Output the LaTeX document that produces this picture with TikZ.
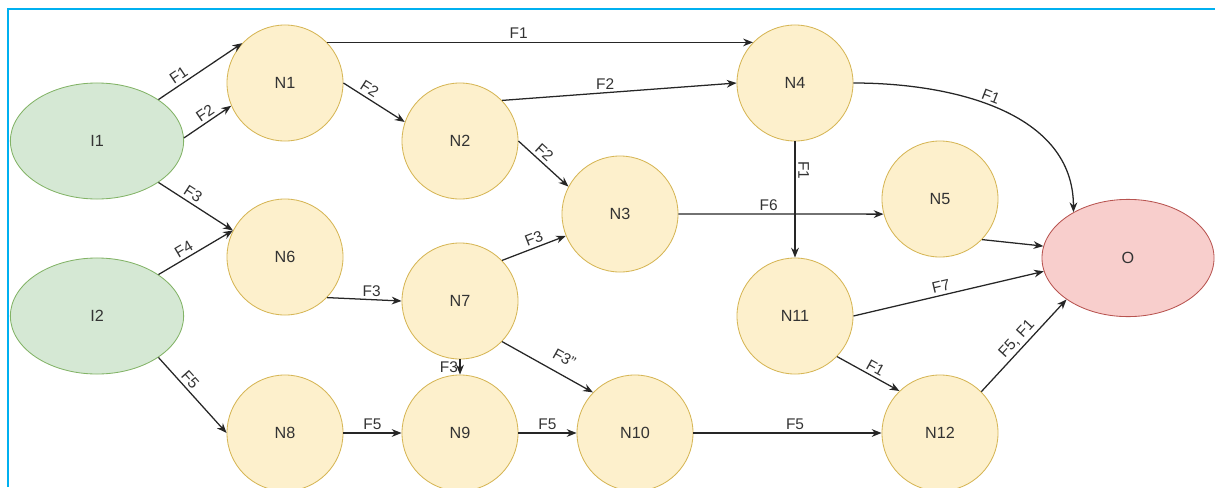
\documentclass[tikz,border=0pt]{standalone}
\usepackage{fontspec}
\setmainfont{Liberation Sans}
\usepackage{tikz}
\usetikzlibrary{arrows.meta}
\usetikzlibrary{shapes.geometric}
\definecolor{ColIn}{RGB}{213,232,212}
\definecolor{ColInLine}{RGB}{130,179,102}
\definecolor{ColStep}{RGB}{253,240,204}
\definecolor{ColStepLine}{RGB}{214,182,86}
\definecolor{ColOut}{RGB}{248,206,204}
\definecolor{ColOutLine}{RGB}{184,84,80}
\definecolor{ColFrame}{RGB}{0,176,240}
\tikzstyle{NodeIn}=[ellipse,draw=ColInLine,fill=ColIn,line width=.6pt,minimum width=4.33cm,
minimum height=2.9cm,inner sep=0pt,text=black!80,font=\fontsize{11.5}{13}\selectfont]
\tikzstyle{NodeStep}=[circle,draw=ColStepLine,fill=ColStep,line width=.6pt,minimum size=2.9cm,
inner sep=0pt,text=black!80,font=\fontsize{11.5}{13}\selectfont]
\tikzstyle{NodeOut}=[ellipse,draw=ColOutLine,fill=ColOut,line width=.6pt,minimum width=4.3cm,
minimum height=2.93cm,inner sep=0pt,text=black!80,font=\fontsize{11.5}{13}\selectfont]
\tikzstyle{EdgeFlow}=[-{Stealth[length=7pt,width=5.5pt]},line width=.9pt,black!85]
\tikzstyle{EdgeLabel}=[font=\fontsize{11}{13}\selectfont,text=black!80,inner sep=2pt]
\tikzstyle{FrameLine}=[ColFrame,line width=1.4pt]

\begin{document}
\begin{tikzpicture}[x=0.025cm,y=0.025cm]
        \useasboundingbox(0,0)rectangle(1215,-487);
        \draw[FrameLine](8,-487)--(8,-9)--(1215,-9);
        % inputs and output
        \node[NodeIn](i1)at(97,-141){I1};
        \node[NodeIn](i2)at(97,-316){I2};
        \node[NodeOut](o)at(1128,-258){O};
        % steps
        \node[NodeStep](n1)at(285,-83){N1};
        \node[NodeStep](n2)at(460,-141){N2};
        \node[NodeStep](n3)at(620,-214){N3};
        \node[NodeStep](n4)at(795,-83){N4};
        \node[NodeStep](n5)at(940,-199){N5};
        \node[NodeStep](n6)at(285,-257){N6};
        \node[NodeStep](n7)at(460,-301){N7};
        \node[NodeStep](n8)at(285,-433){N8};
        \node[NodeStep](n9)at(460,-433){N9};
        \node[NodeStep](n10)at(635,-433){N10};
        \node[NodeStep](n11)at(795,-316){N11};
        \node[NodeStep](n12)at(940,-433){N12};
        % flows
        \draw[EdgeFlow](i1.34)--node[EdgeLabel,sloped,above,pos=.3]{F1}(n1.137);
        \draw[EdgeFlow](i1.2)--node[EdgeLabel,sloped,above,pos=.55]{F2}(n1.203);
        \draw[EdgeFlow](i1.-34)--node[EdgeLabel,sloped,above,pos=.4]{F3}(n6.153);
        \draw[EdgeFlow](i2.34)--node[EdgeLabel,sloped,above,pos=.4]{F4}(n6.153);
        \draw[EdgeFlow](i2.-34)--node[EdgeLabel,sloped,above,pos=.37]{F5}(n8.180);
        \draw[EdgeFlow](n1.44)--node[EdgeLabel,above,pos=.45]{F1}(n4.136);
        \draw[EdgeFlow](n1.0)--node[EdgeLabel,sloped,above,pos=.35]{F2}(n2.161);
        \draw[EdgeFlow](n2.44)--node[EdgeLabel,above,pos=.44]{F2}(n4.180);
        \draw[EdgeFlow](n2.0)--node[EdgeLabel,sloped,above,pos=.4]{F2}(n3.152);
        \draw[EdgeFlow](n3.east)--node[EdgeLabel,above,pos=.44]{F6}(n5.195);
        \draw[EdgeFlow](n4.south)--node[EdgeLabel,sloped,above,pos=.25]{F1}(n11.north);
        \draw[EdgeFlow](n4.east)to[out=0,in=90]node[EdgeLabel,sloped,above,pos=.45]{F1}(o.140);
        \draw[EdgeFlow](n5.-44)--(o.172);
        \draw[EdgeFlow](n11.east)--node[EdgeLabel,sloped,above,pos=.47]{F7}(o.189);
        \draw[EdgeFlow](n11.-44)--node[EdgeLabel,sloped,above,pos=.55]{F1}(n12.134);
        \draw[EdgeFlow](n12.45)--node[EdgeLabel,sloped,above,pos=.5]{F5, F1}(o.214);
        \draw[EdgeFlow](n6.-44)--node[EdgeLabel,above,pos=.6]{F3}(n7.west);
        \draw[EdgeFlow](n7.44)--node[EdgeLabel,sloped,above,pos=.55]{F3}(n3.202);
        \draw[EdgeFlow](n7.south)--node[EdgeLabel,left,inner sep=1pt]{F3}(n9.north);
        \draw[EdgeFlow](n7.-44)--node[EdgeLabel,sloped,above=5pt,pos=.6]{F3"}(n10.136);
        \draw[EdgeFlow](n8.east)--node[EdgeLabel,above]{F5}(n9.west);
        \draw[EdgeFlow](n9.east)--node[EdgeLabel,above]{F5}(n10.west);
        \draw[EdgeFlow](n10.east)--node[EdgeLabel,above,pos=.54]{F5}(n12.west);
    \end{tikzpicture}
\end{document}
